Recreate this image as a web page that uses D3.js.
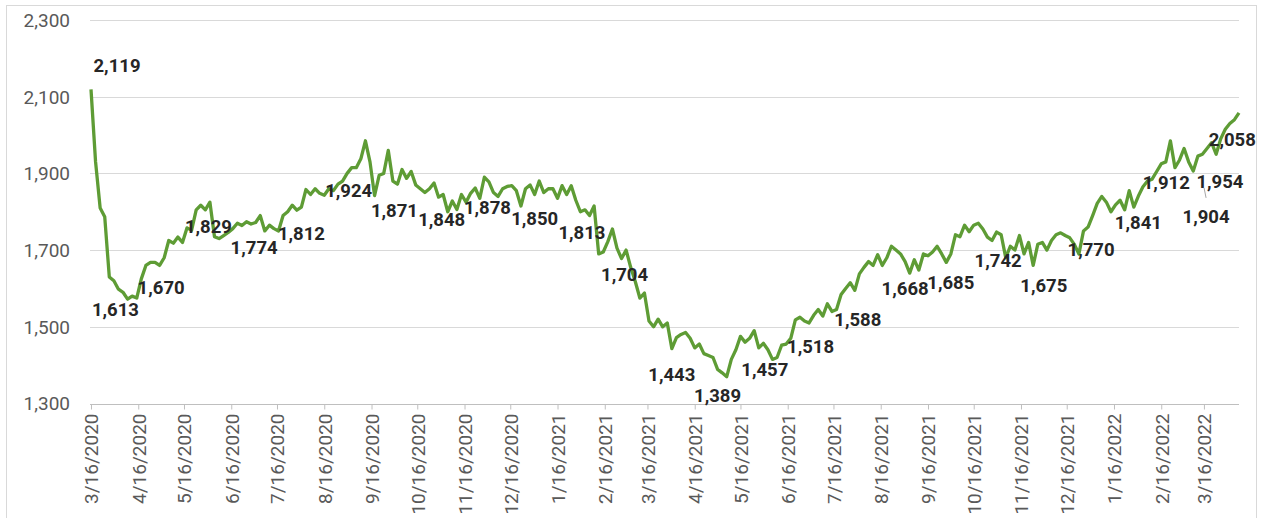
<!DOCTYPE html>
<html>
<head>
<meta charset="utf-8">
<script src="https://cdn.jsdelivr.net/npm/d3@7"></script>
<style>
  body { margin: 0; background: #fff; }
  #chart svg { display: block; }
</style>
</head>
<body>
<div id="chart"></div>
<script>
// series: one reading every 3 days, starting 3/16/2020
const seriesStart = "3/16/2020";
const stepDays = 3;
const seriesValues = [
  2119, 1930, 1810, 1787, 1630, 1620, 1598, 1590, 1572, 1580,
  1575, 1625, 1660, 1668, 1668, 1660, 1680, 1725, 1718, 1734,
  1720, 1758, 1752, 1805, 1817, 1805, 1825, 1735, 1730, 1738,
  1746, 1756, 1770, 1764, 1774, 1768, 1772, 1790, 1750, 1765,
  1756, 1750, 1790, 1800, 1817, 1804, 1812, 1858, 1845, 1860,
  1848, 1843, 1860, 1855, 1872, 1880, 1900, 1915, 1915, 1938,
  1985, 1930, 1842, 1895, 1900, 1960, 1880, 1872, 1910, 1887,
  1905, 1870, 1860, 1850, 1860, 1875, 1838, 1845, 1800, 1828,
  1806, 1845, 1825, 1848, 1862, 1835, 1890, 1878, 1850, 1840,
  1860, 1866, 1868, 1855, 1815, 1860, 1870, 1845, 1880, 1850,
  1860, 1860, 1835, 1868, 1845, 1868, 1830, 1800, 1805, 1790,
  1815, 1690, 1695, 1722, 1755, 1705, 1678, 1700, 1655, 1618,
  1575, 1588, 1515, 1500, 1520, 1500, 1510, 1443, 1472, 1480,
  1485, 1470, 1445, 1455, 1430, 1425, 1420, 1389, 1380, 1370,
  1415, 1440, 1475, 1460, 1470, 1490, 1445, 1457, 1440, 1415,
  1420, 1452, 1455, 1470, 1518, 1525, 1515, 1510, 1530, 1545,
  1528, 1560, 1540, 1545, 1584, 1600, 1615, 1595, 1638, 1655,
  1670, 1660, 1688, 1660, 1680, 1710, 1700, 1690, 1670, 1640,
  1675, 1648, 1690, 1685, 1695, 1710, 1690, 1668, 1690, 1740,
  1735, 1765, 1748, 1765, 1770, 1755, 1734, 1725, 1747, 1740,
  1680, 1710, 1700, 1738, 1690, 1720, 1660, 1715, 1720, 1700,
  1725, 1740, 1745, 1738, 1732, 1715, 1690, 1750, 1760, 1790,
  1822, 1840, 1825, 1800, 1818, 1830, 1805, 1855, 1812, 1841,
  1865, 1880, 1885, 1905, 1925, 1930, 1985, 1915, 1935, 1965,
  1930, 1906, 1945, 1950, 1965, 1980, 1950, 1990, 2015, 2030,
  2040, 2058
];

// labelled points
const labelDates = [
  "3/16/2020", "4/1/2020", "5/1/2020", "6/1/2020", "7/1/2020", "8/1/2020",
  "9/1/2020", "10/1/2020", "11/1/2020", "12/1/2020", "1/1/2021", "2/1/2021",
  "3/1/2021", "4/1/2021", "5/1/2021", "6/1/2021", "7/1/2021", "8/1/2021",
  "9/1/2021", "10/1/2021", "11/1/2021", "12/1/2021", "1/1/2022", "2/1/2022",
  "2/16/2022", "3/1/2022", "3/16/2022", "4/1/2022"
];
const labelValues = [
  2119, 1613, 1670, 1829, 1774, 1812,
  1924, 1871, 1848, 1878, 1850, 1813,
  1704, 1443, 1389, 1457, 1518, 1588,
  1668, 1685, 1742, 1675, 1770, 1841,
  1912, 1904, 1954, 2058
];

const tickLabels = [
  "3/16/2020", "4/16/2020", "5/16/2020", "6/16/2020", "7/16/2020", "8/16/2020",
  "9/16/2020", "10/16/2020", "11/16/2020", "12/16/2020", "1/16/2021", "2/16/2021",
  "3/16/2021", "4/16/2021", "5/16/2021", "6/16/2021", "7/16/2021", "8/16/2021",
  "9/16/2021", "10/16/2021", "11/16/2021", "12/16/2021", "1/16/2022", "2/16/2022",
  "3/16/2022"
];
const yTicks = [1300, 1500, 1700, 1900, 2100, 2300];

const width = 1263;
const height = 518;
const parse = d3.timeParse("%m/%d/%Y");
const fmt = d3.format(",");

const start = parse(seriesStart);
const series = seriesValues.map((v, i) => ({ date: d3.timeDay.offset(start, i * stepDays), value: v }));

const x = d3.scaleTime()
  .domain([start, series[series.length - 1].date])
  .range([91, 1239]);
const y = d3.scaleLinear().domain([1300, 2300]).range([403.5, 20]);

const svg = d3.select("#chart").append("svg")
  .attr("width", width)
  .attr("height", height)
  .style("font-family", "Roboto, sans-serif");

// outer frame
svg.append("rect")
  .attr("x", 6.5).attr("y", 5.5)
  .attr("width", 1250).attr("height", 530)
  .attr("fill", "none")
  .attr("stroke", "#d9d9d9");

// gridlines + y labels
svg.append("g")
  .selectAll("line")
  .data(yTicks.slice(1))
  .join("line")
  .attr("x1", 90).attr("x2", 1239)
  .attr("y1", d => Math.round(y(d)) + 0.5)
  .attr("y2", d => Math.round(y(d)) + 0.5)
  .attr("stroke", "#d9d9d9")
  .attr("stroke-width", 1);

svg.append("g")
  .selectAll("text")
  .data(yTicks)
  .join("text")
  .attr("x", 70)
  .attr("y", d => y(d))
  .attr("dy", "0.36em")
  .attr("text-anchor", "end")
  .attr("fill", "#595959")
  .style("font-size", "19px")
  .text(d => fmt(d));

// x axis
const xAxis = d3.axisBottom(x)
  .tickValues(tickLabels.map(parse))
  .tickSize(5)
  .tickFormat(d3.timeFormat("%-m/%-d/%Y"));

const gx = svg.append("g")
  .attr("transform", `translate(0,${Math.round(y(1300)) + 0.5})`)
  .call(xAxis);
gx.select(".domain").attr("stroke", "#bfbfbf").attr("d", "M90,0H1239");
gx.selectAll(".tick line").attr("stroke", "#bfbfbf");
gx.selectAll(".tick text")
  .attr("fill", "#595959")
  .style("font-size", "19px")
  .style("font-family", "Roboto, sans-serif")
  .attr("text-anchor", "end")
  .attr("transform", "rotate(-90)")
  .attr("x", -9)
  .attr("y", 0)
  .attr("dy", "0.36em");

// line
const line = d3.line()
  .x(d => x(d.date))
  .y(d => y(d.value));

svg.append("path")
  .datum(series)
  .attr("d", line)
  .attr("fill", "none")
  .attr("stroke", "#5e9c35")
  .attr("stroke-width", 3.3)
  .attr("stroke-linejoin", "round");

// data labels, placed below their point except a few moved ones
const moved = {
  0: [26, -24],
  24: [5, 14],
  25: [25, 44],
  26: [16, 29],
  27: [4, 27]
};
const labels = labelDates.map((d, i) => ({ date: parse(d), value: labelValues[i] }));

svg.append("g")
  .selectAll("text")
  .data(labels)
  .join("text")
  .attr("x", (d, i) => x(d.date) + (moved[i] ? moved[i][0] : 0))
  .attr("y", (d, i) => y(d.value) + (moved[i] ? moved[i][1] : 26))
  .attr("dy", "0.36em")
  .attr("text-anchor", "middle")
  .attr("fill", "#262626")
  .style("font-size", "18.5px")
  .style("font-weight", "bold")
  .text(d => fmt(d.value));

// leader line for the moved 3/1/2022 label
const lead = labels[25];
svg.append("line")
  .attr("x1", x(lead.date) + 23).attr("y1", y(lead.value) + 16)
  .attr("x2", x(lead.date) + 25).attr("y2", y(lead.value) + 26)
  .attr("stroke", "#a6a6a6")
  .attr("stroke-width", 1);
</script>
</body>
</html>
